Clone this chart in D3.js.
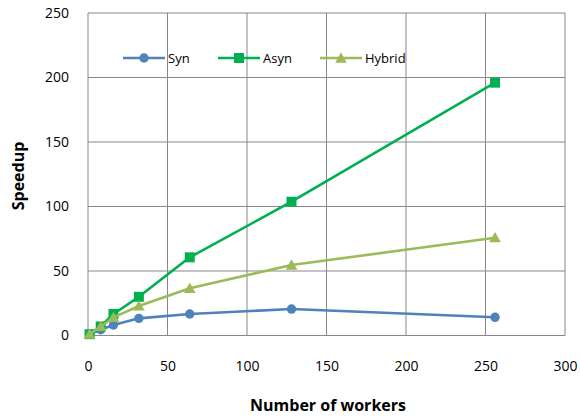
<!DOCTYPE html>
<html>
<head>
<meta charset="utf-8">
<script src="https://cdn.jsdelivr.net/npm/d3@7/dist/d3.min.js"></script>
<style>
  html, body { margin: 0; padding: 0; background: #fff; }
  svg { display: block; font-family: "Open Sans", sans-serif; }
</style>
</head>
<body>
<svg id="chart" width="580" height="416"></svg>
<script>
const workers = [1, 8, 16, 32, 64, 128, 256];
const synSpeedup = [1, 4.5, 8.1, 13.3, 16.7, 20.5, 14.1];
const asynSpeedup = [1, 7, 16.7, 30, 60.6, 103.7, 196];
const hybridSpeedup = [1, 7, 14, 22.9, 36.6, 54.6, 75.8];
const xTicks = [0, 50, 100, 150, 200, 250, 300];
const yTicks = [0, 50, 100, 150, 200, 250];

const seriesList = [
  { name: "Syn", values: synSpeedup, color: "#4F81BD", marker: "circle" },
  { name: "Asyn", values: asynSpeedup, color: "#00B050", marker: "square" },
  { name: "Hybrid", values: hybridSpeedup, color: "#9BBB59", marker: "triangle" }
];

const FONT = "'Open Sans', sans-serif";
const svg = d3.select("#chart");
const plot = { left: 88, right: 565, top: 13, bottom: 335.5 };

const x = d3.scaleLinear().domain([0, 300]).range([plot.left, plot.right]);
const y = d3.scaleLinear().domain([0, 250]).range([plot.bottom, plot.top]);

// gridlines
const grid = svg.append("g");
grid.selectAll("line.h").data(yTicks).join("line")
  .attr("x1", plot.left).attr("x2", plot.right)
  .attr("y1", d => y(d)).attr("y2", d => y(d))
  .attr("stroke", "#878787").attr("stroke-width", 1);
grid.selectAll("line.v").data(xTicks).join("line")
  .attr("y1", plot.top).attr("y2", plot.bottom)
  .attr("x1", d => x(d)).attr("x2", d => x(d))
  .attr("stroke", "#878787").attr("stroke-width", 1);

// tick labels
const yAxis = d3.axisLeft(y).tickValues(yTicks).tickSize(0).tickPadding(19);
svg.append("g").attr("transform", `translate(${plot.left},0)`).call(yAxis)
  .call(g => g.select(".domain").remove())
  .selectAll("text").attr("font-size", 14).attr("fill", "#000")
  .style("font-family", FONT);

const xAxis = d3.axisBottom(x).tickValues(xTicks).tickSize(0).tickPadding(25.5);
svg.append("g").attr("transform", `translate(0,${plot.bottom})`).call(xAxis)
  .call(g => g.select(".domain").remove())
  .selectAll("text").attr("font-size", 14).attr("fill", "#000")
  .style("font-family", FONT);

// axis titles
svg.append("text").attr("x", 328).attr("y", 411)
  .attr("text-anchor", "middle").attr("font-size", 16).attr("font-weight", "bold")
  .text("Number of workers");
svg.append("text")
  .attr("transform", "translate(24,176) rotate(-90)")
  .attr("text-anchor", "middle").attr("font-size", 16).attr("font-weight", "bold")
  .text("Speedup");

function drawMarker(g, type, cx, cy, color) {
  if (type === "circle") {
    g.append("circle").attr("cx", cx).attr("cy", cy).attr("r", 4.7).attr("fill", color);
  } else if (type === "square") {
    g.append("rect").attr("x", cx - 5).attr("y", cy - 5)
      .attr("width", 10).attr("height", 10).attr("fill", color);
  } else {
    const s = 5.8;
    g.append("path")
      .attr("d", `M${cx},${cy - s} L${cx + s},${cy + s * 0.8} L${cx - s},${cy + s * 0.8} Z`)
      .attr("fill", color);
  }
}

const line = d3.line().x(d => x(d[0])).y(d => y(d[1]));

seriesList.forEach(s => {
  const pts = workers.map((w, i) => [w, s.values[i]]);
  const g = svg.append("g");
  g.append("path").datum(pts).attr("d", line)
    .attr("fill", "none").attr("stroke", s.color).attr("stroke-width", 2.6)
    .attr("stroke-linejoin", "round");
  pts.forEach(p => drawMarker(g, s.marker, x(p[0]), y(p[1]), s.color));
});

// legend
const legendX = [123, 218, 320];
const legendY = 58;
seriesList.forEach((s, i) => {
  const g = svg.append("g");
  const lx = legendX[i];
  g.append("line").attr("x1", lx).attr("x2", lx + 42)
    .attr("y1", legendY).attr("y2", legendY)
    .attr("stroke", s.color).attr("stroke-width", 2.6);
  drawMarker(g, s.marker, lx + 21, legendY, s.color);
  g.append("text").attr("x", lx + 45).attr("y", legendY + 5)
    .attr("font-size", 13).attr("fill", "#000").text(s.name);
});
</script>
</body>
</html>
